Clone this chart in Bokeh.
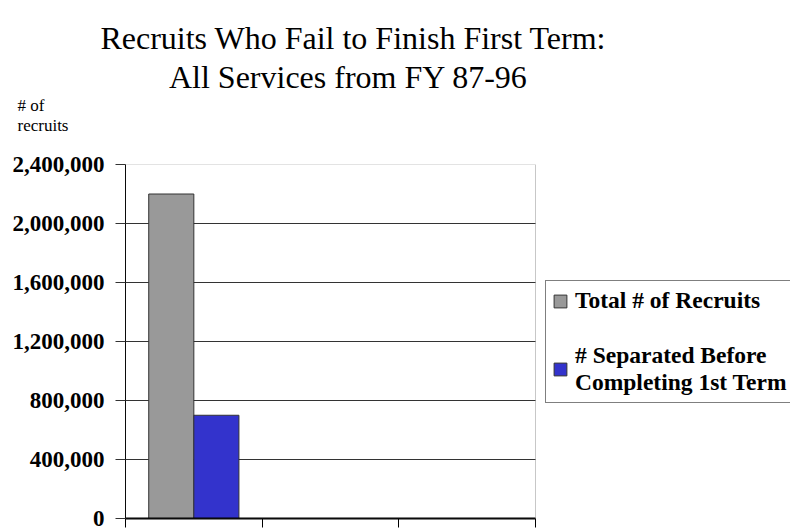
from bokeh.plotting import figure
from bokeh.models import (Label, Legend, LegendItem, FixedTicker, NumeralTickFormatter,
                          Range1d, BoxAnnotation)
from bokeh.embed import file_html
from bokeh.resources import INLINE

# ---------------- data ----------------
title_lines = ["Recruits Who Fail to Finish First Term:", "All Services from FY 87-96"]
y_caption_lines = ["# of", "recruits"]
x_slots = [0, 1, 2, 3]                      # category boundaries on the x axis (3 slots)
groups = ["All Services FY 87-96"]          # only the first slot holds data
total_recruits = [2200000]
separated_before_term = [700000]
series_names = ["Total # of Recruits", "# Separated Before\nCompleting 1st Term"]
series_colors = ["#999999", "#3333CC"]
y_ticks = [0, 400000, 800000, 1200000, 1600000, 2000000, 2400000]

# ---------------- layout constants (pixels) ----------------
FONT = "Liberation Serif"
BAR_W = 0.33
W, H = 790, 529
F_LEFT, F_RIGHT_CHART, F_TOP, F_BOTTOM = 125, 535, 164, 518
Y_MAX = y_ticks[-1]
X_MAX = x_slots[-1]
# frame extends to the right edge so the legend (drawn inside the frame) is not clipped
X_END = X_MAX * (W - F_LEFT) / (F_RIGHT_CHART - F_LEFT)

p = figure(width=W, height=H, output_backend="svg", toolbar_location=None,
           x_range=Range1d(0, X_END), y_range=Range1d(0, Y_MAX),
           min_border_left=F_LEFT, min_border_right=0, min_border_top=F_TOP,
           min_border_bottom=H - F_BOTTOM)
p.outline_line_color = None

x_total = [i + 0.5 - BAR_W / 2 for i in range(len(groups))]
x_sep = [i + 0.5 + BAR_W / 2 for i in range(len(groups))]

# horizontal grid limited to the chart area
p.xgrid.visible = False
grid = p.ygrid[0]
if "cross_bounds" in grid.properties():
    grid.ticker = FixedTicker(ticks=y_ticks)
    grid.cross_bounds = (0, X_MAX)
    grid.grid_line_color = "#333333"
    grid.grid_line_width = 1
else:
    grid.visible = False
    p.segment(x0=0, x1=X_MAX, y0=y_ticks, y1=y_ticks, line_color="#333333", line_width=1)

r1 = p.vbar(x=x_total, top=total_recruits, width=BAR_W, fill_color=series_colors[0],
            line_color="#333333", line_width=1)
r2 = p.vbar(x=x_sep, top=separated_before_term, width=BAR_W, fill_color=series_colors[1],
            line_color="#333333", line_width=1)

# chart border (top / right)
p.add_layout(BoxAnnotation(left=0, right=X_MAX, bottom=0, top=Y_MAX, fill_alpha=0,
                           line_color="#444444", line_width=1))

ya = p.yaxis[0]
ya.ticker = FixedTicker(ticks=y_ticks)
ya.formatter = NumeralTickFormatter(format="0,0")
ya.axis_line_color = "black"
ya.major_tick_out = 10
ya.major_tick_in = 0
ya.minor_tick_out = 0
ya.minor_tick_in = 0
ya.major_tick_line_color = "#333333"
ya.major_label_standoff = 11
ya.major_label_text_font = FONT
ya.major_label_text_font_style = "bold"
ya.major_label_text_font_size = "23px"
ya.major_label_text_color = "black"

xa = p.xaxis[0]
xa.ticker = FixedTicker(ticks=x_slots)
xa.bounds = (0, X_MAX)
xa.major_label_overrides = {t: "" for t in x_slots}
xa.major_label_text_font_size = "1px"
xa.major_label_standoff = 0
xa.axis_line_color = "black"
xa.axis_line_width = 2
xa.major_tick_out = 9
xa.major_tick_in = 0
xa.minor_tick_out = 0
xa.minor_tick_in = 0
xa.major_tick_line_color = "black"

legend = Legend(items=[LegendItem(label=series_names[0], renderers=[r1]),
                       LegendItem(label=series_names[1], renderers=[r2])],
                location=(545 - F_LEFT, F_BOTTOM - 403))
legend.label_text_font = FONT
legend.label_text_font_style = "bold"
legend.label_text_font_size = "23.5px"
legend.label_text_color = "black"
legend.glyph_width = 16
legend.glyph_height = 16
legend.label_standoff = 7
legend.padding = 6
legend.spacing = 28
legend.margin = 0
legend.border_line_color = "black"
legend.border_line_width = 1
legend.background_fill_color = "white"
legend.background_fill_alpha = 1
p.add_layout(legend)


# title & caption above the frame: x in px from frame left, y via the frame's y scale
def add_text(txt, page_x, page_y, size, align):
    y_data = Y_MAX * (F_BOTTOM - page_y) / (F_BOTTOM - F_TOP)
    p.add_layout(Label(x=page_x - F_LEFT, y=y_data, x_units="screen", y_units="data",
                       text=txt, text_align=align, text_baseline="alphabetic",
                       text_font=FONT, text_font_style="normal",
                       text_font_size=size, text_color="black"), "above")


add_text(title_lines[0], 353, 37, "32px", "center")
add_text(title_lines[1], 348, 76, "32px", "center")
add_text(y_caption_lines[0], 17, 105, "17px", "left")
add_text(y_caption_lines[1], 17, 125, "17px", "left")

open("out.html", "w").write(file_html(p, INLINE))
